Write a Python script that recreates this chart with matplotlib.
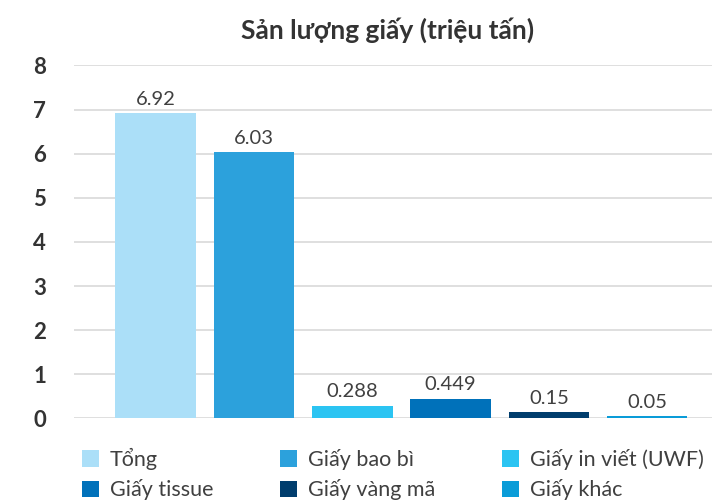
import numpy as np
import matplotlib.pyplot as plt

plt.rcParams['font.family'] = ['Lato', 'DejaVu Sans']

# du lieu
categories = ["Tổng", "Giấy bao bì", "Giấy in viết (UWF)", "Giấy tissue", "Giấy vàng mã", "Giấy khác"]
values = [6.92, 6.03, 0.288, 0.449, 0.15, 0.05]
labels = ["6.92", "6.03", "0.288", "0.449", "0.15", "0.05"]
colors = ["#abdff8", "#2ca1dc", "#2bc4f2", "#0071ba", "#003d6d", "#0a9cd8"]

fig = plt.figure(figsize=(7.12, 5.03), dpi=100)
ax = fig.add_axes([0.104, 0.168, 0.896, 0.702])

x = np.arange(len(values))
bars = ax.bar(x, values, width=0.82, color=colors, label=categories, zorder=3)

for b, lab in zip(bars, labels):
    ax.text(b.get_x() + b.get_width() / 2, b.get_height() + 0.12, lab,
            ha='center', va='bottom', fontsize=14.5, color='#404040')

ax.set_ylim(0, 8)
ax.set_xlim(-0.83, 5.66)
ax.set_yticks(range(0, 9))
ax.set_xticks([])
ax.yaxis.grid(True, color='#d9d9d9', linewidth=1.2, zorder=0)
for s in ax.spines.values():
    s.set_visible(False)
ax.tick_params(axis='y', length=0, pad=20, labelsize=16, labelcolor='#333333')
for t in ax.get_yticklabels():
    t.set_fontweight('bold')

fig.text(0.545, 0.94, "Sản lượng giấy (triệu tấn)", ha='center', va='center',
         fontsize=19, fontweight='bold', color='#333333')

# legend dien theo hang
order = [0, 3, 1, 4, 2, 5]
fig.legend(handles=[bars[i] for i in order], labels=[categories[i] for i in order],
           ncol=3, loc='upper left',
           bbox_to_anchor=(0.094, 0.14), frameon=False, fontsize=15.5,
           handlelength=0.8, handleheight=0.8, handletextpad=0.5,
           columnspacing=3.1, labelspacing=0.45, labelcolor='#404040',
           borderpad=0.2)

fig.savefig("out.png", dpi=100)
